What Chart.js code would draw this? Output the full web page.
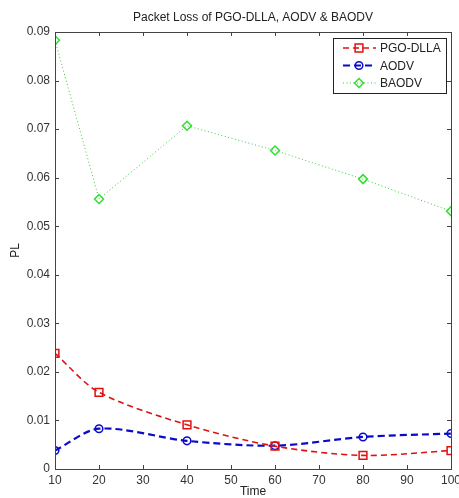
<!DOCTYPE html>
<html>
<head>
<meta charset="utf-8">
<script src="https://cdn.jsdelivr.net/npm/chart.js@4.4.1/dist/chart.umd.min.js"></script>
<style>
  body { margin: 0; background: #fff; }
  canvas { display: block; }
</style>
</head>
<body>
<canvas id="plChart" width="459" height="498"></canvas>
<script>
// dữ liệu
const times = [10, 20, 40, 60, 80, 100];
const pgoDlla = [0.0238, 0.0158, 0.0091, 0.0047, 0.0028, 0.0038];
const aodv = [0.0038, 0.0083, 0.0058, 0.0048, 0.0066, 0.0073];
const baodv = [0.0883, 0.0556, 0.0707, 0.0656, 0.0597, 0.0531];
const xTicks = [10, 20, 30, 40, 50, 60, 70, 80, 90, 100];
const yTicks = [0, 0.01, 0.02, 0.03, 0.04, 0.05, 0.06, 0.07, 0.08, 0.09];

const FONT = "'Liberation Sans', Arial, sans-serif";
const toPoints = (ys) => ys.map((y, i) => ({ x: times[i], y: y }));

// khung kiểu MATLAB: viền 4 cạnh + vạch chia hướng vào trong
const boxPlugin = {
  id: "matlabBox",
  afterDatasetsDraw(chart) {
    const { ctx, chartArea: a, scales } = chart;
    ctx.save();
    ctx.strokeStyle = "#444";
    ctx.lineWidth = 1;
    ctx.beginPath();
    scales.x.ticks.forEach((t) => {
      const x = Math.round(scales.x.getPixelForValue(t.value)) + 0.5;
      ctx.moveTo(x, a.bottom);
      ctx.lineTo(x, a.bottom - 4);
      ctx.moveTo(x, a.top);
      ctx.lineTo(x, a.top + 4);
    });
    scales.y.ticks.forEach((t) => {
      const y = Math.round(scales.y.getPixelForValue(t.value)) + 0.5;
      ctx.moveTo(a.left, y);
      ctx.lineTo(a.left + 4, y);
      ctx.moveTo(a.right, y);
      ctx.lineTo(a.right - 4, y);
    });
    ctx.stroke();
    ctx.strokeRect(Math.round(a.left) + 0.5, Math.round(a.top) + 0.5,
      Math.round(a.right - a.left), Math.round(a.bottom - a.top));
    ctx.restore();
  },
};

// chú thích nằm trong vùng vẽ (góc trên bên phải)
const legendPlugin = {
  id: "insideLegend",
  afterDraw(chart) {
    const { ctx, chartArea: a } = chart;
    const x0 = a.right - 118, y0 = a.top + 6, w = 113, h = 55;
    ctx.save();
    ctx.fillStyle = "#fff";
    ctx.fillRect(x0, y0, w, h);
    ctx.strokeStyle = "#222";
    ctx.lineWidth = 1;
    ctx.strokeRect(x0 + 0.5, y0 + 0.5, w, h);
    chart.data.datasets.forEach((ds, i) => {
      const y = y0 + 10 + i * 17.5;
      ctx.strokeStyle = ds.borderColor;
      ctx.lineWidth = ds.borderWidth;
      ctx.setLineDash(ds.borderDash || []);
      ctx.beginPath();
      ctx.moveTo(x0 + 10, y);
      ctx.lineTo(x0 + 43, y);
      ctx.stroke();
      ctx.setLineDash([]);
      // marker rỗng ở giữa đoạn
      ctx.fillStyle = "rgba(0,0,0,0)";
      ctx.strokeStyle = ds.pointBorderColor;
      ctx.lineWidth = ds.pointBorderWidth;
      Chart.helpers.drawPoint(ctx, {
        pointStyle: ds.pointStyle,
        radius: ds.pointRadius,
        borderWidth: ds.pointBorderWidth,
      }, x0 + 26, y);
      ctx.fillStyle = "#222";
      ctx.font = "12px " + FONT;
      ctx.textBaseline = "middle";
      ctx.fillText(ds.label, x0 + 47, y + 1);
    });
    ctx.restore();
  },
};

new Chart(document.getElementById("plChart"), {
  type: "line",
  data: {
    datasets: [
      {
        label: "PGO-DLLA",
        data: toPoints(pgoDlla),
        borderColor: "#e01010",
        borderWidth: 1.6,
        borderDash: [6, 4],
        tension: 0.3,
        pointStyle: "rect",
        pointRadius: 5.5,
        pointBorderWidth: 1.5,
        pointBackgroundColor: "rgba(0,0,0,0)",
        pointBorderColor: "#e01010",
      },
      {
        label: "AODV",
        data: toPoints(aodv),
        borderColor: "#0a0ac8",
        borderWidth: 2.2,
        borderDash: [7, 4],
        tension: 0.3,
        pointStyle: "circle",
        pointRadius: 3.8,
        pointBorderWidth: 1.5,
        pointBackgroundColor: "rgba(0,0,0,0)",
        pointBorderColor: "#0a0ac8",
      },
      {
        label: "BAODV",
        data: toPoints(baodv),
        borderColor: "#33cc33",
        borderWidth: 1,
        borderDash: [1, 2.5],
        tension: 0,
        pointStyle: "rectRot",
        pointRadius: 4.5,
        pointBorderWidth: 1.5,
        pointBackgroundColor: "rgba(0,0,0,0)",
        pointBorderColor: "#33dd33",
      },
    ],
  },
  options: {
    responsive: false,
    animation: false,
    layout: { padding: { left: 0, right: 8, top: 0, bottom: 0 } },
    plugins: {
      legend: { display: false },
      tooltip: { enabled: false },
      title: {
        display: true,
        text: "Packet Loss of PGO-DLLA, AODV & BAODV",
        color: "#222",
        fullSize: false,
        font: { family: FONT, size: 12, weight: "normal" },
        padding: { top: 10, bottom: 7.6 },
      },
    },
    scales: {
      x: {
        type: "linear",
        min: 10,
        max: 100,
        grid: { display: false, drawTicks: false },
        border: { display: false },
        afterBuildTicks: (s) => { s.ticks = xTicks.map((v) => ({ value: v })); },
        ticks: {
          color: "#333",
          padding: 4,
          maxRotation: 0,
          font: { family: FONT, size: 12 },
        },
        title: {
          display: true,
          text: "Time",
          color: "#222",
          font: { family: FONT, size: 12, lineHeight: 1 },
          padding: { top: 0, bottom: 0 },
        },
        afterFit: (s) => {
          s.height = 29;
          s.paddingLeft = 0;
          s.paddingRight = 0;
        },
      },
      y: {
        type: "linear",
        min: 0,
        max: 0.09,
        grid: { display: false, drawTicks: false },
        border: { display: false },
        afterBuildTicks: (s) => { s.ticks = yTicks.map((v) => ({ value: v })); },
        ticks: {
          color: "#333",
          padding: 5,
          font: { family: FONT, size: 12 },
          callback: (v) => (v === 0 ? "0" : v.toFixed(2)),
        },
        title: {
          display: true,
          text: "PL",
          color: "#222",
          font: { family: FONT, size: 12 },
          padding: { top: 8, bottom: 0 },
        },
        afterFit: (s) => {
          s.width = 55;
          s.paddingTop = 0;
          s.paddingBottom = 0;
        },
      },
    },
  },
  plugins: [boxPlugin, legendPlugin],
});
</script>
</body>
</html>
